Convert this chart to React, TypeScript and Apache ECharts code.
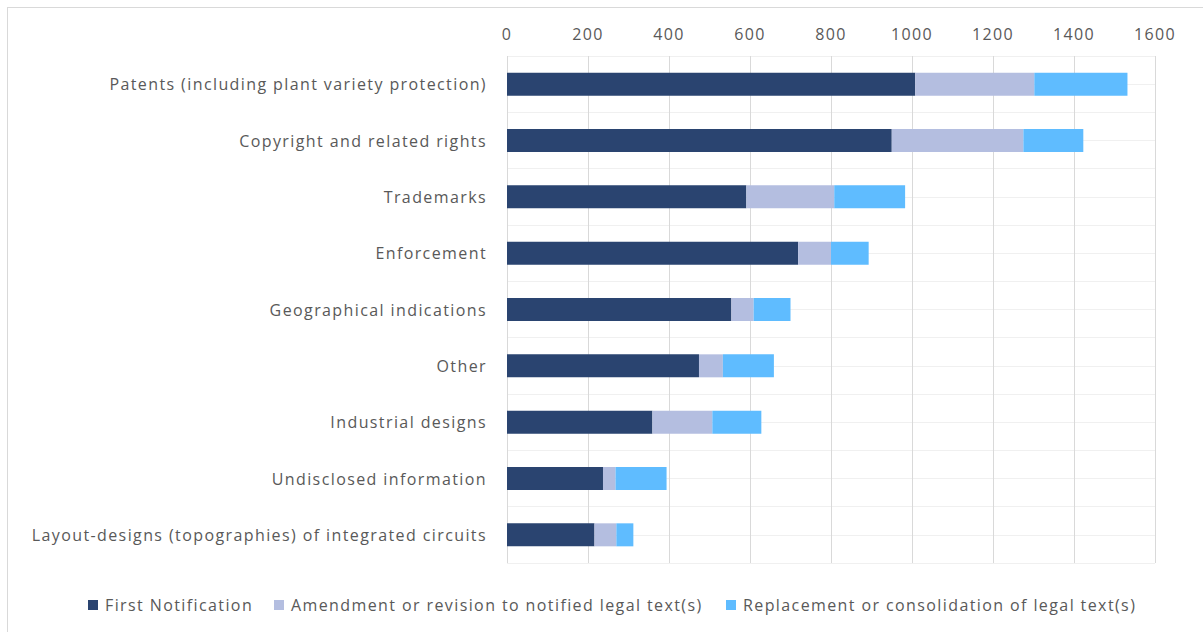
import React, { useEffect, useRef } from "react";
import * as echarts from "echarts";

const categories = [
  "Patents (including plant variety protection)",
  "Copyright and related rights",
  "Trademarks",
  "Enforcement",
  "Geographical indications",
  "Other",
  "Industrial designs",
  "Undisclosed information",
  "Layout-designs (topographies) of integrated circuits",
];
const firstNotification = [1008, 950, 591, 719, 554, 474, 359, 237, 216];
const amendment = [294, 325, 217, 81, 55, 59, 148, 31, 54];
const replacement = [230, 148, 175, 93, 91, 126, 121, 126, 42];
const seriesNames = [
  "First Notification",
  "Amendment or revision to notified legal text(s)",
  "Replacement or consolidation of legal text(s)",
];
const colors = ["#2A4470", "#B4BEE0", "#5FBCFF"];
const legendLefts = [88, 274, 726];

export default function App() {
  const ref = useRef<HTMLDivElement>(null);
  useEffect(() => {
    if (!ref.current) return;
    const chart = echarts.init(ref.current, undefined, { renderer: "svg" });
    const font = "'Open Sans', sans-serif";
    const data = [firstNotification, amendment, replacement];
    chart.setOption({
      animation: false,
      color: colors,
      grid: { left: 507, right: 48, top: 56, bottom: 69, containLabel: false },
      legend: seriesNames.map((n, i) => ({
        left: legendLefts[i],
        top: 592,
        padding: [5, 0, 5, 0],
        itemWidth: 10,
        itemHeight: 10,
        icon: "rect",
        textStyle: { fontFamily: font, fontSize: 16, color: "#595959", padding: [0, 0, 0, 2] },
        data: [n],
      })),
      xAxis: {
        type: "value",
        position: "top",
        min: 0,
        max: 1600,
        interval: 200,
        axisLine: { show: false },
        axisTick: { show: false },
        axisLabel: {
          fontFamily: font,
          fontSize: 16,
          color: "#595959",
          margin: 14,
          formatter: (v: number) => String(v),
        },
        splitLine: { show: true, lineStyle: { color: "#D9D9D9", width: 1 } },
      },
      yAxis: [
        {
          type: "category",
          data: categories,
          inverse: true,
          axisLine: { show: false },
          axisTick: { show: false },
          splitLine: { show: false },
          axisLabel: { fontFamily: font, fontSize: 16, color: "#595959", margin: 20 },
        },
        {
          type: "value",
          min: 0,
          max: 18,
          interval: 1,
          position: "left",
          axisLine: { show: false },
          axisTick: { show: false },
          axisLabel: { show: false },
          splitLine: { show: true, lineStyle: { color: "#F0F0F0", width: 1 } },
        },
      ],
      series: data.map((d, i) => ({
        name: seriesNames[i],
        type: "bar",
        stack: "total",
        yAxisIndex: 0,
        barWidth: 23,
        data: d,
        itemStyle: { color: colors[i] },
        z: 3,
      })),
    });
    return () => chart.dispose();
  }, []);
  return (
    <div style={{ position: "fixed", left: 0, top: 0, width: 1203, height: 632, overflow: "hidden", background: "#fff" }}>
      <style>{".wide-text text { letter-spacing: 1.4px; }"}</style>
      <div
        style={{
          position: "absolute",
          left: 7,
          top: 7,
          width: 1300,
          height: 700,
          border: "1px solid #D9D9D9",
        }}
      />
      <div
        ref={ref}
        className="wide-text"
        style={{ position: "absolute", left: 0, top: 0, width: 1203, height: 632 }}
      />
    </div>
  );
}
